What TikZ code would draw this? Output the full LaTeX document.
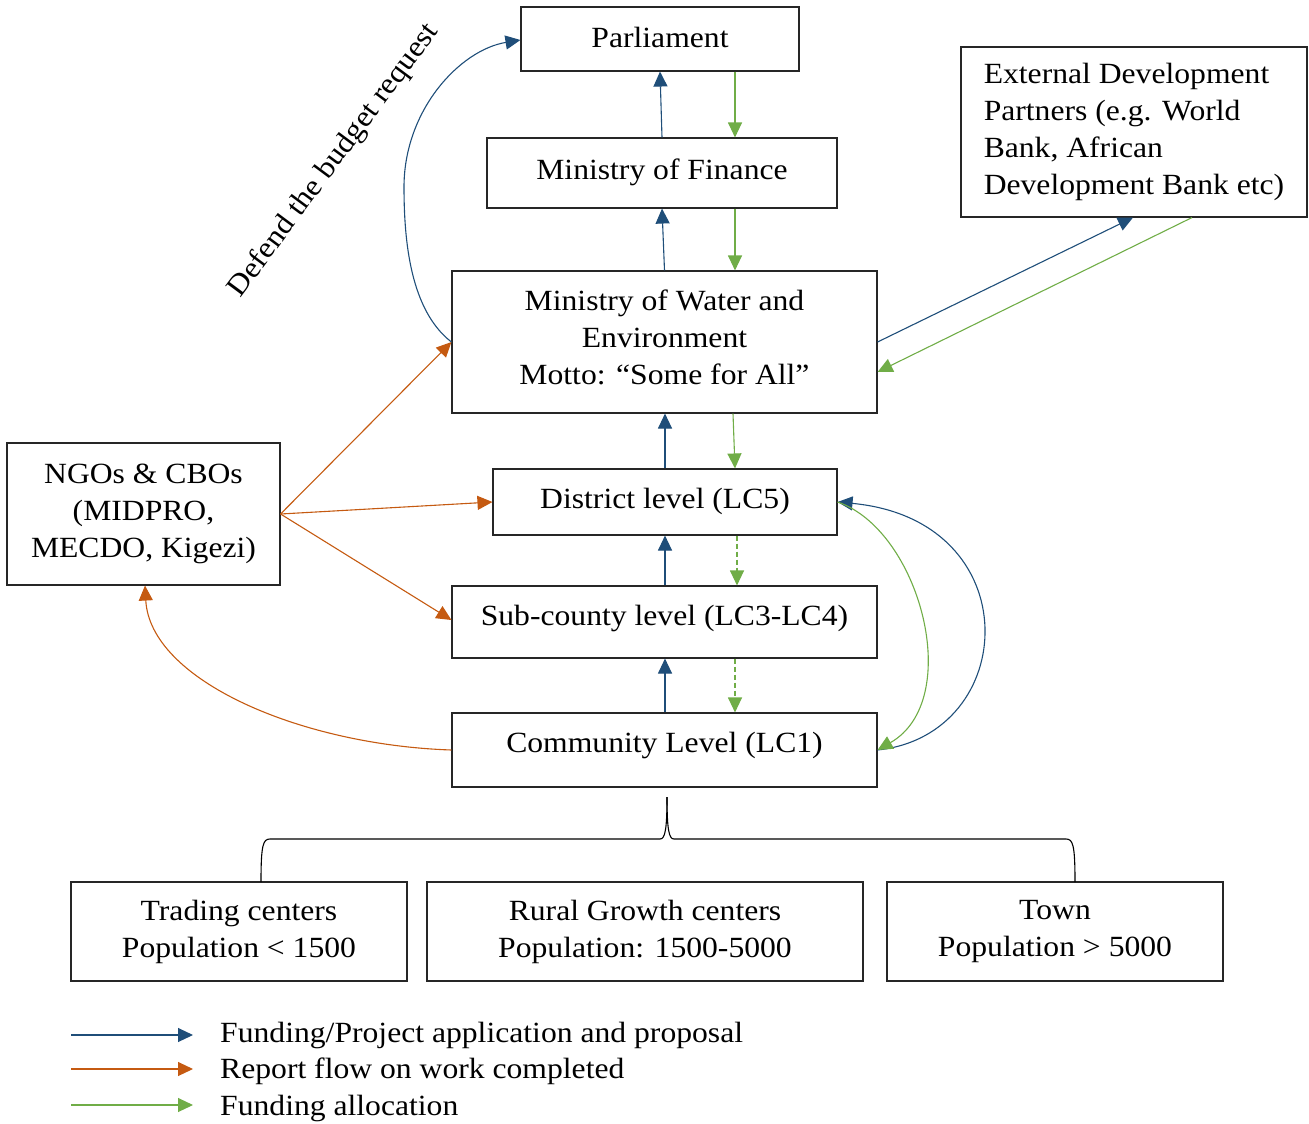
\documentclass[tikz,border=0pt]{standalone}
\usepackage{fontspec}
\setmainfont{Liberation Serif}[FakeStretch=1.08]
\usetikzlibrary{arrows.meta}
\definecolor{cblue}{HTML}{1F4E79}
\definecolor{corange}{HTML}{C55A11}
\definecolor{cgreen}{HTML}{70AD47}
\begin{document}
\begin{tikzpicture}[x=1pt,y=-1pt,
  txt/.style={font=\fontsize{29.3pt}{37pt}\selectfont},
  box/.style={txt,draw=black!85,line width=1.1pt,align=center,inner sep=0pt},
  tip/.style={-{Triangle[length=15pt,width=14pt]}},
  fb/.style={tip,draw=cblue,line width=1.1pt},
  fo/.style={tip,draw=corange,line width=1.1pt},
  fg/.style={tip,draw=cgreen,line width=1.1pt},
  gdash/.style={dash pattern=on 5pt off 3pt},
  bracel/.style={draw=black,line width=1.1pt}]
\useasboundingbox (0,0) rectangle (1309,1124);

% boxes
\node[box,minimum width=278pt,minimum height=64pt,text depth=4pt] (parl) at (660,39) {Parliament};
\node[box,minimum width=350pt,minimum height=70pt,text depth=8.5pt] (mof) at (662,173) {Ministry of Finance};
\node[box,minimum width=425pt,minimum height=142pt,text depth=10pt] (mowe) at (664.5,342) {Ministry of Water and\\Environment\\Motto: “Some for All”};
\node[box,minimum width=344pt,minimum height=66pt,text depth=8pt] (dist) at (665,502) {District level (LC5)};
\node[box,minimum width=425pt,minimum height=72pt,text depth=12.5pt] (sub) at (664.5,622) {Sub-county level (LC3-LC4)};
\node[box,minimum width=425pt,minimum height=74pt,text depth=14.5pt] (comm) at (664.5,750) {Community Level (LC1)};
\node[box,minimum width=273pt,minimum height=142pt] (ngo) at (143.5,514) {NGOs \& CBOs\\(MIDPRO,\\MECDO, Kigezi)};
\node[box,align=left,minimum width=346pt,minimum height=170pt] (ext) at (1134,132) {External Development\\Partners (e.g. World\\Bank, African\\Development Bank etc)};
\node[box,minimum width=336pt,minimum height=99pt] (trade) at (239,931.5) {Trading centers\\Population {\char`<} 1500};
\node[box,minimum width=436pt,minimum height=99pt] (rural) at (645,931.5) {Rural Growth centers\\Population: 1500-5000};
\node[box,minimum width=336pt,minimum height=99pt] (town) at (1055,931.5) {Town\\Population {\char`>} 5000};

% rotated label
\node[txt,rotate=53.4,inner sep=0pt] (dlabel) at (334,161) {Defend the budget request};

% vertical arrows
\draw[fb] (mof.north) -- (parl.south);
\draw[fg] ([xshift=75pt]parl.south) -- ([xshift=73pt]mof.north);
\draw[fb] (mowe.north) -- (mof.south);
\draw[fg] ([xshift=73pt]mof.south) -- ([xshift=70.5pt]mowe.north);
\draw[fb] (dist.north) -- (dist.north |- mowe.south);
\draw[fg] ([xshift=68.5pt]mowe.south) -- ([xshift=70pt]dist.north);
\draw[fb] (sub.north -| dist.north) -- (dist.south);
\draw[fg,gdash] ([xshift=72pt]dist.south) -- ([xshift=72pt]dist.south |- sub.north);
\draw[fb] (comm.north -| dist.north) -- (sub.south -| dist.north);
\draw[fg,gdash] ([xshift=70.5pt]sub.south) -- ([xshift=70.5pt]comm.north);

% external partners
\draw[fb] (mowe.east) -- ([xshift=-1pt]ext.south);
\draw[fg] ([xshift=58pt]ext.south) -- ([yshift=-30pt]mowe.east);

% NGO report flows
\draw[fo] (ngo.east) -- (mowe.west);
\draw[fo] (ngo.east) -- (dist.west);
\draw[fo] (ngo.east) -- ([yshift=2pt]sub.west);
\draw[fo] (comm.west) .. controls (300,745) and (150,680) .. ([xshift=1.5pt]ngo.south);

% budget defence
\draw[fb] (mowe.west) .. controls (410,310) and (404,240) .. (404,187) .. controls (404,110) and (460,50) .. ([yshift=-1pt]parl.west);

% district <-> community
\draw[fb] (comm.east) .. controls (1020,735) and (1030,520) .. (dist.east);
\draw[fg] (dist.east) .. controls (920,530) and (965,700) .. (comm.east);

% brace
\coordinate (btip) at (667,797);
\coordinate (bl) at (261,882);
\coordinate (br) at (1075,882);
\draw[bracel] (bl) .. controls (261,845) and (263,839) .. (270,839) -- (660,839) .. controls (665,839) and (667,830) .. (btip);
\draw[bracel] (btip) .. controls (667,830) and (669,839) .. (674,839) -- (1066,839) .. controls (1073,839) and (1075,845) .. (br);

% legend
\node[txt,anchor=west,inner sep=0pt] (l1) at (220,1035) {Funding/Project application and proposal};
\node[txt,anchor=west,inner sep=0pt] (l2) at (220,1071) {Report flow on work completed};
\node[txt,anchor=west,inner sep=0pt] (l3) at (220,1108) {Funding allocation};
\coordinate (s1) at (71,1035);
\coordinate (s2) at (71,1069);
\coordinate (s3) at (71,1105);
\draw[fb] (s1) -- (193,1035);
\draw[fo] (s2) -- (193,1069);
\draw[fg] (s3) -- (193,1105);
\end{tikzpicture}
\end{document}
